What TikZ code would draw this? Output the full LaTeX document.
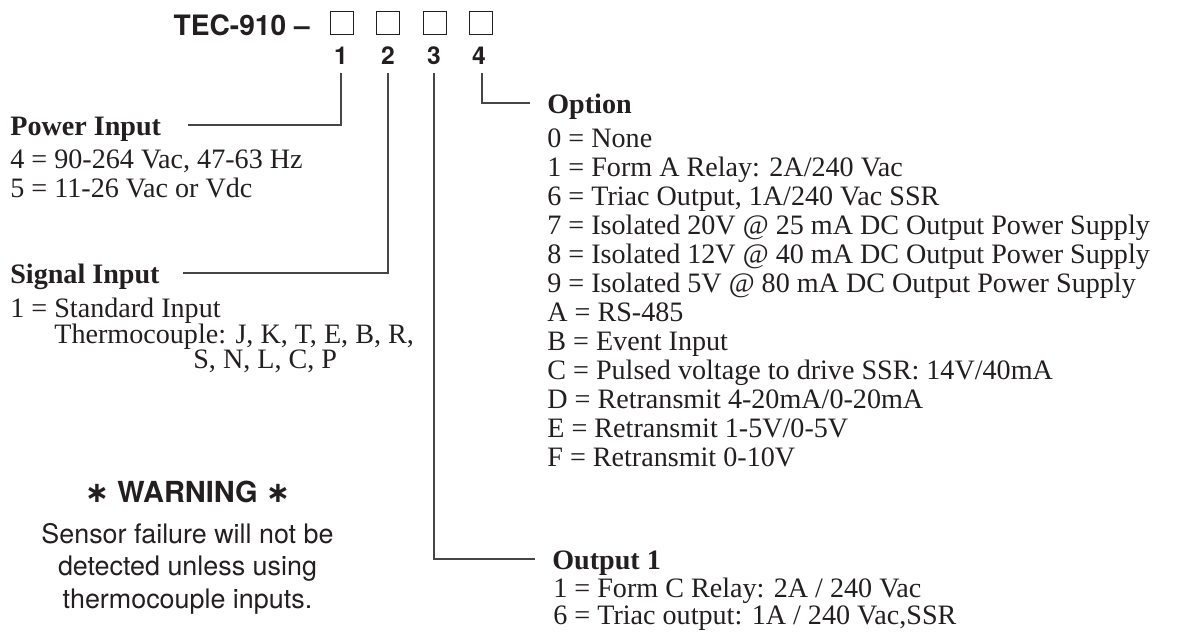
\documentclass[tikz,border=0pt]{standalone}
\usepackage{fontspec}
\setmainfont{Liberation Serif}
\setsansfont{TeX Gyre Heros}
\newfontfamily\starfont{DejaVu Sans}
\definecolor{ink}{RGB}{35,31,32}
\definecolor{leader}{RGB}{70,70,70}
\tikzset{
  head/.style={font=\fontsize{16}{19}\selectfont\bfseries, text=ink, anchor=base west,
    inner sep=0pt, text height=0.4cm, text depth=0pt},
  item/.style={font=\fontsize{16}{19}\selectfont, text=ink, anchor=base west, inner sep=0pt},
  slot/.style={draw=ink, line width=0.5pt, minimum size=0.46cm, inner sep=0pt},
  digit/.style={font=\fontsize{14}{16}\sffamily\bfseries, text=ink, anchor=base},
  warnline/.style={font=\fontsize{15.3}{18}\sffamily, text=ink, anchor=base},
  conn/.style={draw=leader, line width=0.8pt}
}
\newcommand{\warnstar}{{\starfont\bfseries ∗}}
\begin{document}
\begin{tikzpicture}
  \useasboundingbox (0,0) rectangle (23.56,-12.70);

  % part number
  \node[font=\fontsize{16}{19}\sffamily\bfseries, text=ink, anchor=base east, inner sep=0pt] (title) at (6.20,-0.70) {TEC-910 \textendash};
  \foreach \x [count=\i] in {6.83,7.76,8.69,9.62}
    \node[slot] (b\i) at (\x,-0.46) {};
  \node[digit] (d1) at (6.82,-1.28) {1};
  \node[digit] (d2) at (7.76,-1.28) {2};
  \node[digit] (d3) at (8.68,-1.28) {3};
  \node[digit] (d4) at (9.58,-1.28) {4};

  % power input
  \node[head] (pwr) at (0.20,-2.70) {Power Input};
  \node[item] (pwr1) at (0.20,-3.36) {4 = 90-264 Vac, 47-63 Hz};
  \node[item] (pwr2) at (0.20,-3.94) {5 = 11-26 Vac or Vdc};

  % signal input
  \node[head] (sig) at (0.20,-5.66) {Signal Input};
  \node[item] (sig1) at (0.20,-6.34) {1 = Standard Input};
  \node[item] (sig2) at (1.08,-6.86) {Thermocouple: J, K, T, E, B, R,};
  \node[item] (sig3) at (3.86,-7.37) {S, N, L, C, P};

  % option
  \node[head] (opt) at (10.94,-2.26) {Option};
  \foreach \t [count=\i] in {0 = None, 1 = Form A Relay: 2A/240 Vac,
      {6 = Triac Output, 1A/240 Vac SSR},
      7 = Isolated 20V @ 25 mA DC Output Power Supply,
      8 = Isolated 12V @ 40 mA DC Output Power Supply,
      9 = Isolated 5V @ 80 mA DC Output Power Supply,
      A = RS-485, B = Event Input,
      C = Pulsed voltage to drive SSR: 14V/40mA,
      D = Retransmit 4-20mA/0-20mA, E = Retransmit 1-5V/0-5V,
      F = Retransmit 0-10V}
    \node[item] (opt\i) at (10.94,{-2.94-0.58*(\i-1)}) {\t};

  % output 1
  \node[head] (out) at (11.04,-11.38) {Output 1};
  \node[item] (out1) at (11.06,-11.94) {1 = Form C Relay: 2A / 240 Vac};
  \node[item] (out2) at (11.06,-12.48) {6 = Triac output: 1A / 240 Vac,SSR};

  % warning
  \node[warnline, font=\fontsize{16.5}{19}\sffamily\bfseries] (warn) at (3.75,-10.04) {\warnstar{} WARNING \warnstar};
  \node[warnline] (warn1) at (3.75,-10.86) {Sensor failure will not be};
  \node[warnline] (warn2) at (3.75,-11.50) {detected unless using};
  \node[warnline] (warn3) at (3.75,-12.16) {thermocouple inputs.};

  % leaders
  \draw[conn] ([yshift=-0.06cm]d1.south) |- ([xshift=0.54cm]pwr.east);
  \draw[conn] ([yshift=-0.06cm]d2.south) |- ([xshift=0.46cm]sig.east);
  \draw[conn] ([yshift=-0.06cm]d3.south) |- ([xshift=-0.34cm]out.west);
  \draw[conn] ([xshift=0.06cm,yshift=-0.06cm]d4.south) |- ([xshift=-0.34cm]opt.west);
\end{tikzpicture}
\end{document}
